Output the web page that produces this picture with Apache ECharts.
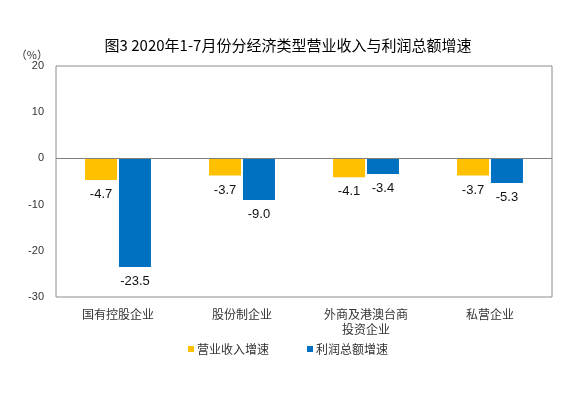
<!DOCTYPE html>
<html>
<head>
<meta charset="utf-8">
<script src="https://cdn.jsdelivr.net/npm/echarts@6/dist/echarts.min.js"></script>
<style>
html, body { margin: 0; padding: 0; background: #fff; }
#chart { width: 576px; height: 399px; }
</style>
</head>
<body>
<div id="chart"></div>
<script>
var categories = ['国有控股企业', '股份制企业', '外商及港澳台商\n投资企业', '私营企业'];
var revenueGrowth = [-4.7, -3.7, -4.1, -3.7];
var profitGrowth = [-23.5, -9.0, -3.4, -5.3];
var seriesNames = ['营业收入增速', '利润总额增速'];

var myChart = echarts.init(document.getElementById('chart'));

var font = '"Microsoft YaHei", "Noto Sans CJK SC", sans-serif';
var numFont = 'Arial, "Liberation Sans", sans-serif';

function valueLabel() {
    return {
        show: true,
        position: 'bottom',
        distance: 8,
        fontSize: 13,
        color: '#111',
        fontFamily: numFont,
        formatter: function (p) { return p.value.toFixed(1); }
    };
}

var option = {
    animation: false,
    title: {
        text: '图3 2020年1-7月份分经济类型营业收入与利润总额增速',
        left: 'center',
        top: 33,
        textStyle: { fontSize: 15, fontWeight: 'normal', color: '#000', fontFamily: font }
    },
    legend: {
        data: seriesNames,
        bottom: 39,
        left: 'center',
        itemWidth: 6,
        itemHeight: 6,
        itemGap: 38,
        icon: 'rect',
        textStyle: { fontSize: 12, color: '#333', fontFamily: font, padding: [0, 0, 0, -2] }
    },
    grid: {
        left: 56,
        right: 24,
        top: 66,
        bottom: 102,
        show: true,
        borderColor: '#8c8c8c',
        borderWidth: 1
    },
    xAxis: {
        type: 'category',
        data: categories,
        position: 'bottom',
        axisLine: { show: false },
        axisTick: { show: false },
        axisLabel: {
            interval: 0,
            margin: 10,
            fontSize: 12,
            lineHeight: 15,
            color: '#333',
            fontFamily: font
        }
    },
    yAxis: {
        type: 'value',
        name: '（%）',
        nameLocation: 'end',
        nameGap: 6,
        nameTextStyle: { fontSize: 11, color: '#333', align: 'right', padding: [0, 8, 0, 0], fontFamily: font },
        min: -30,
        max: 20,
        interval: 10,
        splitLine: { show: false },
        axisLine: { show: false },
        axisTick: { show: false },
        axisLabel: { fontSize: 11, color: '#333', margin: 12, fontFamily: numFont }
    },
    series: [
        {
            name: seriesNames[0],
            type: 'bar',
            data: revenueGrowth,
            barWidth: 32,
            barGap: '6%',
            itemStyle: { color: '#FFC000' },
            label: valueLabel(),
            markLine: {
                silent: true,
                symbol: 'none',
                label: { show: false },
                lineStyle: { color: '#7f7f7f', type: 'solid', width: 1 },
                data: [{ yAxis: 0 }]
            }
        },
        {
            name: seriesNames[1],
            type: 'bar',
            data: profitGrowth,
            barWidth: 32,
            barGap: '6%',
            itemStyle: { color: '#0070C0' },
            label: valueLabel()
        }
    ]
};

myChart.setOption(option);
window.addEventListener('resize', function () {
    myChart.resize();
});
</script>
</body>
</html>
